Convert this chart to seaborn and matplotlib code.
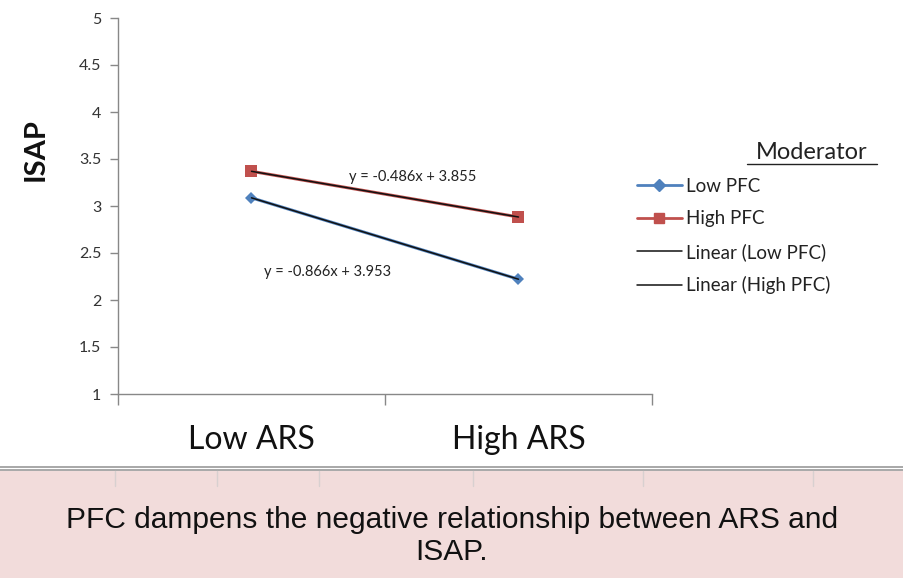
import numpy as np
import pandas as pd
import seaborn as sns
import matplotlib
matplotlib.use("Agg")
import matplotlib.pyplot as plt
from matplotlib.lines import Line2D
from matplotlib.patches import Rectangle

# ---- data ----
categories = ["Low ARS", "High ARS"]
low_pfc = [3.087, 2.221]
high_pfc = [3.369, 2.883]
series_names = ["Low PFC", "High PFC"]
y_ticks = [1, 1.5, 2, 2.5, 3, 3.5, 4, 4.5, 5]
y_tick_labels = ["1", "1.5", "2", "2.5", "3", "3.5", "4", "4.5", "5"]
caption = "PFC dampens the negative relationship between ARS and\nISAP."

sns.set_theme(style="white")
plt.rcParams["font.family"] = ["Lato", "DejaVu Sans"]

pos = np.arange(len(categories))
df = pd.DataFrame({
    "pos": np.concatenate([pos, pos]),
    "ISAP": low_pfc + high_pfc,
    "Moderator": [series_names[0]] * len(pos) + [series_names[1]] * len(pos),
})

blue = "#4F81BD"
red = "#C0504D"

fig = plt.figure(figsize=(9.04, 5.78), dpi=100)
ax = fig.add_axes([118 / 904, 1 - 394 / 578, (652 - 118) / 904, (394 - 18) / 578])

sns.lineplot(data=df, x="pos", y="ISAP", hue="Moderator", style="Moderator",
             palette={series_names[0]: blue, series_names[1]: red},
             markers={series_names[0]: "D", series_names[1]: "s"},
             dashes=False, markersize=8, linewidth=2.2, markeredgewidth=0,
             legend=False, ax=ax)
for line in ax.lines:
    if line.get_marker() == "D":
        line.set_markersize(6.5)

# linear trendlines (Excel x = 1, 2)
xe = pos + 1
texts = []
for vals in (low_pfc, high_pfc):
    m, b = np.polyfit(xe, vals, 1)
    ax.plot(pos, m * xe + b, color="#111111", linewidth=1.1, zorder=3)
    texts.append(f"y = {m:.3f}x + {b:.3f}")

ax.text(0.605, 3.31, texts[1], ha="center", va="center", fontsize=10.5, color="#222222")
ax.text(0.285, 2.295, texts[0], ha="center", va="center", fontsize=10.5, color="#222222")

ax.set_xlim(-0.5, 1.5)
ax.set_ylim(1, 5)
ax.set_yticks(y_ticks)
ax.set_yticklabels(y_tick_labels)
ax.set_xticks([-0.5, 0.5, 1.5])
ax.set_xticklabels([])
ax.set_xticks(pos, minor=True)
ax.set_xticklabels(categories, minor=True, fontsize=23, color="#111111")
ax.tick_params(axis="x", which="minor", length=0, pad=22)
ax.tick_params(axis="x", which="major", direction="out", length=8, width=1, color="#888888", bottom=True)
ax.tick_params(axis="y", direction="out", length=6, width=1, color="#888888", left=True,
               labelsize=11.5, labelcolor="#333333", pad=6)
ax.set_xlabel("")
ax.set_ylabel("")
for s in ["top", "right"]:
    ax.spines[s].set_visible(False)
for s in ["left", "bottom"]:
    ax.spines[s].set_color("#888888")
    ax.spines[s].set_linewidth(1)

fig.text(36 / 904, 1 - 150 / 578, "ISAP", rotation=90, ha="center", va="center",
         fontsize=21, fontweight="bold", color="#111111")

# legend
handles = [
    Line2D([], [], color=blue, marker="D", markersize=6, linewidth=2),
    Line2D([], [], color=red, marker="s", markersize=7, linewidth=2),
    Line2D([], [], color="#111111", linewidth=1.1),
    Line2D([], [], color="#111111", linewidth=1.1),
]
labels = series_names + [f"Linear ({n})" for n in series_names]
leg = fig.legend(handles, labels, loc="upper left",
                 bbox_to_anchor=(637 / 904, 1 - 178 / 578), frameon=False,
                 fontsize=13.5, handlelength=2.4, handletextpad=0.2, labelspacing=0.82,
                 borderpad=0, borderaxespad=0)
for t in leg.get_texts():
    t.set_color("#222222")

fig.text(812 / 904, 1 - 153 / 578, "Moderator", ha="center", va="center",
         fontsize=17, color="#222222")
fig.add_artist(Line2D([747 / 904, 877 / 904], [1 - 164 / 578, 1 - 164 / 578],
                      color="#222222", linewidth=1))

# bottom caption band
fig.add_artist(Line2D([0, 1], [1 - 466.5 / 578] * 2, color="#9a9a9a", linewidth=1.2))
fig.add_artist(Line2D([0, 1], [1 - 469.5 / 578] * 2, color="#9a9a9a", linewidth=1.2))
fig.add_artist(Rectangle((0, 0), 1, 1 - 471 / 578, transform=fig.transFigure,
                         facecolor="#F2DCDB", edgecolor="none", zorder=0))
for xv in [115, 217, 319, 473, 643, 813]:
    fig.add_artist(Line2D([xv / 904] * 2, [1 - 471 / 578, 1 - 486 / 578],
                          color="#d8d0d0", linewidth=1))
fig.text(452 / 904, 1 - 536 / 578, caption, ha="center", va="center",
         fontsize=21.5, color="#111111", linespacing=1.15,
         family=["Liberation Sans", "DejaVu Sans"])

fig.savefig("out.png", dpi=100)
